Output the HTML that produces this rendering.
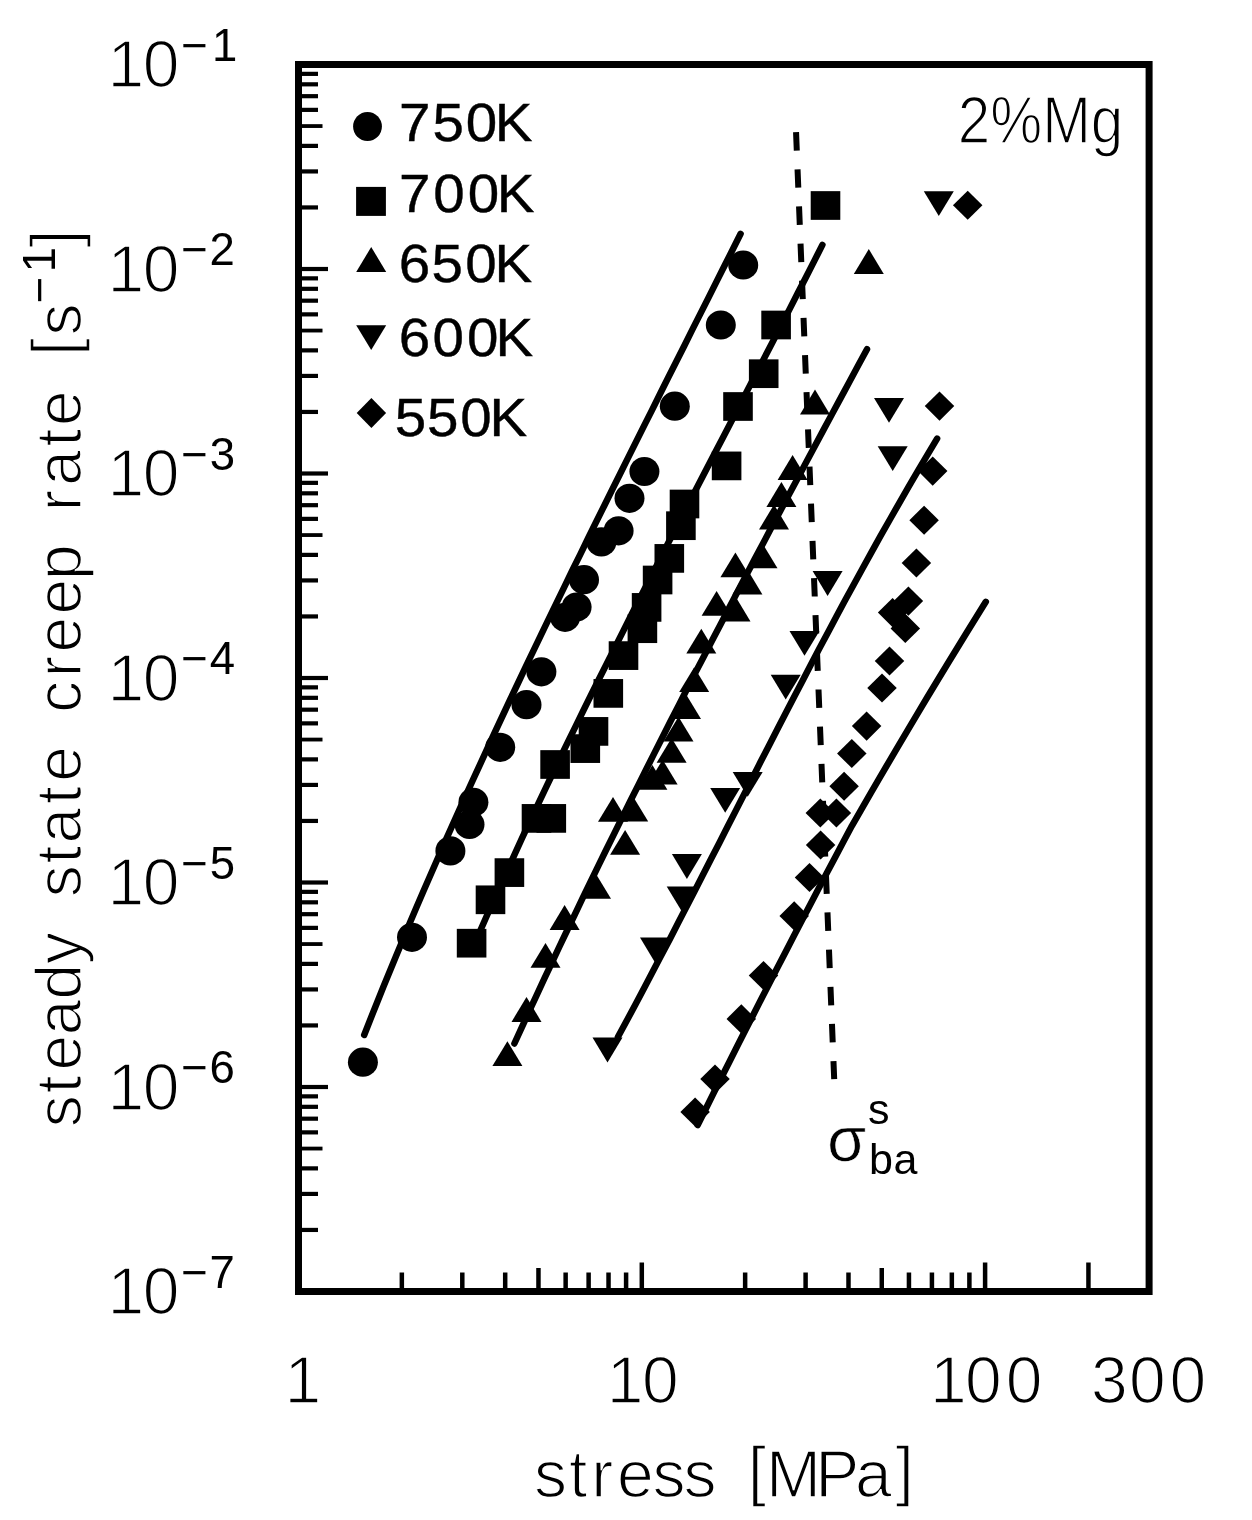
<!DOCTYPE html>
<html lang="en"><head><meta charset="utf-8"><title>steady state creep rate vs stress, 2%Mg</title>
<style>
html,body{margin:0;padding:0;background:#fff;}
svg{display:block;}
text{font-family:"Liberation Sans",sans-serif;fill:#000;}
.t60{font-size:66px;stroke:#fff;stroke-width:1.6px;}
.t42{font-size:45.5px;}
.ty{font-size:64px;stroke:#fff;stroke-width:1.5px;}
.lg{font-size:53.8px;stroke:#000;stroke-width:0.4px;}
.sb{font-size:43px;}
.sg{font-size:63px;stroke:#fff;stroke-width:0.6px;}
</style></head><body>
<svg width="1252" height="1520" viewBox="0 0 1252 1520">
<rect x="0" y="0" width="1252" height="1520" fill="#fff"/>
<path d="M298.5 64.5H1149.1V1291.5H298.5Z" fill="none" stroke="#000" stroke-width="7.0" stroke-linejoin="miter"/>
<path d="M301.0 1229.94h17" stroke="#000" stroke-width="4.2" fill="none"/>
<path d="M301.0 1193.93h17" stroke="#000" stroke-width="4.2" fill="none"/>
<path d="M301.0 1168.38h17" stroke="#000" stroke-width="4.2" fill="none"/>
<path d="M301.0 1148.56h21.5" stroke="#000" stroke-width="3.8" fill="none"/>
<path d="M301.0 1132.37h17" stroke="#000" stroke-width="4.2" fill="none"/>
<path d="M301.0 1118.68h17" stroke="#000" stroke-width="4.2" fill="none"/>
<path d="M301.0 1106.82h17" stroke="#000" stroke-width="4.2" fill="none"/>
<path d="M301.0 1096.36h17" stroke="#000" stroke-width="4.2" fill="none"/>
<path d="M301.0 1087.00h27" stroke="#000" stroke-width="4.2" fill="none"/>
<path d="M301.0 1025.44h17" stroke="#000" stroke-width="4.2" fill="none"/>
<path d="M301.0 989.43h17" stroke="#000" stroke-width="4.2" fill="none"/>
<path d="M301.0 963.88h17" stroke="#000" stroke-width="4.2" fill="none"/>
<path d="M301.0 944.06h21.5" stroke="#000" stroke-width="3.8" fill="none"/>
<path d="M301.0 927.87h17" stroke="#000" stroke-width="4.2" fill="none"/>
<path d="M301.0 914.18h17" stroke="#000" stroke-width="4.2" fill="none"/>
<path d="M301.0 902.32h17" stroke="#000" stroke-width="4.2" fill="none"/>
<path d="M301.0 891.86h17" stroke="#000" stroke-width="4.2" fill="none"/>
<path d="M301.0 882.50h27" stroke="#000" stroke-width="4.2" fill="none"/>
<path d="M301.0 820.94h17" stroke="#000" stroke-width="4.2" fill="none"/>
<path d="M301.0 784.93h17" stroke="#000" stroke-width="4.2" fill="none"/>
<path d="M301.0 759.38h17" stroke="#000" stroke-width="4.2" fill="none"/>
<path d="M301.0 739.56h21.5" stroke="#000" stroke-width="3.8" fill="none"/>
<path d="M301.0 723.37h17" stroke="#000" stroke-width="4.2" fill="none"/>
<path d="M301.0 709.68h17" stroke="#000" stroke-width="4.2" fill="none"/>
<path d="M301.0 697.82h17" stroke="#000" stroke-width="4.2" fill="none"/>
<path d="M301.0 687.36h17" stroke="#000" stroke-width="4.2" fill="none"/>
<path d="M301.0 678.00h27" stroke="#000" stroke-width="4.2" fill="none"/>
<path d="M301.0 616.44h17" stroke="#000" stroke-width="4.2" fill="none"/>
<path d="M301.0 580.43h17" stroke="#000" stroke-width="4.2" fill="none"/>
<path d="M301.0 554.88h17" stroke="#000" stroke-width="4.2" fill="none"/>
<path d="M301.0 535.06h21.5" stroke="#000" stroke-width="3.8" fill="none"/>
<path d="M301.0 518.87h17" stroke="#000" stroke-width="4.2" fill="none"/>
<path d="M301.0 505.18h17" stroke="#000" stroke-width="4.2" fill="none"/>
<path d="M301.0 493.32h17" stroke="#000" stroke-width="4.2" fill="none"/>
<path d="M301.0 482.86h17" stroke="#000" stroke-width="4.2" fill="none"/>
<path d="M301.0 473.50h27" stroke="#000" stroke-width="4.2" fill="none"/>
<path d="M301.0 411.94h17" stroke="#000" stroke-width="4.2" fill="none"/>
<path d="M301.0 375.93h17" stroke="#000" stroke-width="4.2" fill="none"/>
<path d="M301.0 350.38h17" stroke="#000" stroke-width="4.2" fill="none"/>
<path d="M301.0 330.56h21.5" stroke="#000" stroke-width="3.8" fill="none"/>
<path d="M301.0 314.37h17" stroke="#000" stroke-width="4.2" fill="none"/>
<path d="M301.0 300.68h17" stroke="#000" stroke-width="4.2" fill="none"/>
<path d="M301.0 288.82h17" stroke="#000" stroke-width="4.2" fill="none"/>
<path d="M301.0 278.36h17" stroke="#000" stroke-width="4.2" fill="none"/>
<path d="M301.0 269.00h27" stroke="#000" stroke-width="4.2" fill="none"/>
<path d="M301.0 207.44h17" stroke="#000" stroke-width="4.2" fill="none"/>
<path d="M301.0 171.43h17" stroke="#000" stroke-width="4.2" fill="none"/>
<path d="M301.0 145.88h17" stroke="#000" stroke-width="4.2" fill="none"/>
<path d="M301.0 126.06h21.5" stroke="#000" stroke-width="3.8" fill="none"/>
<path d="M301.0 109.87h17" stroke="#000" stroke-width="4.2" fill="none"/>
<path d="M301.0 96.18h17" stroke="#000" stroke-width="4.2" fill="none"/>
<path d="M301.0 84.32h17" stroke="#000" stroke-width="4.2" fill="none"/>
<path d="M301.0 73.86h17" stroke="#000" stroke-width="4.2" fill="none"/>
<path d="M401.84 1289.0v-16.5" stroke="#000" stroke-width="4.5" fill="none"/>
<path d="M462.30 1289.0v-16.5" stroke="#000" stroke-width="4.5" fill="none"/>
<path d="M505.19 1289.0v-16.5" stroke="#000" stroke-width="4.5" fill="none"/>
<path d="M538.46 1289.0v-21" stroke="#000" stroke-width="4.5" fill="none"/>
<path d="M565.64 1289.0v-16.5" stroke="#000" stroke-width="4.5" fill="none"/>
<path d="M588.62 1289.0v-16.5" stroke="#000" stroke-width="4.5" fill="none"/>
<path d="M608.53 1289.0v-16.5" stroke="#000" stroke-width="4.5" fill="none"/>
<path d="M626.09 1289.0v-16.5" stroke="#000" stroke-width="4.5" fill="none"/>
<path d="M641.80 1289.0v-26.5" stroke="#000" stroke-width="4.5" fill="none"/>
<path d="M745.14 1289.0v-16.5" stroke="#000" stroke-width="4.5" fill="none"/>
<path d="M805.60 1289.0v-16.5" stroke="#000" stroke-width="4.5" fill="none"/>
<path d="M848.49 1289.0v-16.5" stroke="#000" stroke-width="4.5" fill="none"/>
<path d="M881.76 1289.0v-21" stroke="#000" stroke-width="4.5" fill="none"/>
<path d="M908.94 1289.0v-16.5" stroke="#000" stroke-width="4.5" fill="none"/>
<path d="M931.92 1289.0v-16.5" stroke="#000" stroke-width="4.5" fill="none"/>
<path d="M951.83 1289.0v-16.5" stroke="#000" stroke-width="4.5" fill="none"/>
<path d="M969.39 1289.0v-16.5" stroke="#000" stroke-width="4.5" fill="none"/>
<path d="M985.10 1289.0v-26.5" stroke="#000" stroke-width="4.5" fill="none"/>
<path d="M1088.44 1289.0v-26.5" stroke="#000" stroke-width="4.5" fill="none"/>
<text class="t60" transform="translate(0 1314.1)" x="107.6 142.8" y="0">10</text>
<text class="t42" transform="translate(0 1287.7)" x="181.2 209.6" y="0">−7</text>
<text class="t60" transform="translate(0 1109.6)" x="107.6 142.8" y="0">10</text>
<text class="t42" transform="translate(0 1083.2)" x="181.2 209.5" y="0">−6</text>
<text class="t60" transform="translate(0 905.1)" x="107.6 142.8" y="0">10</text>
<text class="t42" transform="translate(0 878.7)" x="181.2 209.7" y="0">−5</text>
<text class="t60" transform="translate(0 700.6)" x="107.6 142.8" y="0">10</text>
<text class="t42" transform="translate(0 674.2)" x="181.2 209.8" y="0">−4</text>
<text class="t60" transform="translate(0 496.1)" x="107.6 142.8" y="0">10</text>
<text class="t42" transform="translate(0 469.7)" x="181.2 209.8" y="0">−3</text>
<text class="t60" transform="translate(0 291.6)" x="107.6 142.8" y="0">10</text>
<text class="t42" transform="translate(0 265.2)" x="181.2 209.6" y="0">−2</text>
<text class="t60" transform="translate(0 87.1)" x="107.6 142.8" y="0">10</text>
<text class="t42" transform="translate(0 60.7)" x="181.2 211.9" y="0">−1</text>
<text class="t60" transform="translate(0 1402.6)" x="284.4" y="0">1</text>
<text class="t60" transform="translate(0 1402.6)" x="606.8 642.0" y="0">10</text>
<text class="t60" transform="translate(0 1402.6)" x="930.1 965.1 1005.7" y="0">100</text>
<text class="t60" transform="translate(0 1402.6)" x="1090.9 1129.1 1169.4" y="0">300</text>
<text class="t60" transform="translate(0 1497.3)" x="534.1 569.1 591.3 617.0 652.4 683.5 716.5 747.7 766.0 815.3 855.0 895.4" y="0 0 0 0 0 0 0 -4 0 0 0 -4">stress [MPa]</text>
<text class="ty" transform="translate(80.6 0) rotate(-90)" x="-1127.2 -1093.3 -1070.5 -1035.2 -999.4 -964.0 -932.0 -897.3 -863.5 -843.6 -803.9 -781.7 -746.1 -712.8 -677.2 -652.5 -614.5 -580.1 -544.5 -511.2 -485.7 -446.5 -426.0 -390.4 -355.7 -335.4" y="0 0 0 0 0 0 0 0 0 0 0 0 0 0 0 0 0 0 0 0 0 0 0 0 -4 0">steady state creep rate [s</text>
<text class="t42" transform="translate(55.0 0) rotate(-90)" x="-303.3 -272.3" y="0">−1</text>
<text class="t60" transform="translate(76.6 0) rotate(-90)" x="-247.8" y="0">]</text>
<text class="t60" transform="translate(0 142.9) scale(0.885 1)" x="1082.2 1118.9 1177.6 1232.6" y="0">2%Mg</text>
<text class="sg" transform="translate(0 1160.5)" x="827.3" y="0">σ</text>
<text class="sb" transform="translate(0 1123.5)" x="868.0" y="0">s</text>
<text class="sb" transform="translate(0 1174.2)" x="869.1 893.5" y="0">ba</text>
<g fill="none" stroke="#000" stroke-width="6.5" stroke-linecap="round" stroke-linejoin="round">
<path d="M740.6 233.8L732.6 249.8L724.5 265.8L716.4 281.9L708.4 297.9L700.3 313.9L692.2 329.9L684.2 346.0L676.1 362.0L668.0 378.0L660.0 394.0L652.0 410.1L643.9 426.1L635.9 442.1L627.9 458.1L619.9 474.2L611.9 490.2L604.0 506.2L596.0 522.2L588.1 538.3L580.3 554.3L572.4 570.3L564.6 586.3L556.8 602.4L549.0 618.4L541.3 634.4L533.6 650.4L525.9 666.4L518.3 682.5L510.7 698.5L503.2 714.5L495.7 730.5L488.2 746.6L480.9 762.6L473.5 778.6L466.2 794.6L459.0 810.7L451.8 826.7L444.6 842.7L437.6 858.7L430.6 874.8L423.6 890.8L416.7 906.8L409.9 922.8L403.2 938.9L396.5 954.9L389.9 970.9L383.3 986.9L376.9 1003.0L370.5 1019.0L364.2 1035.0"/>
<path d="M822.4 244.9L814.3 260.9L806.1 277.0L797.8 293.0L789.6 309.1L781.3 325.1L773.0 341.2L764.7 357.2L756.3 373.3L748.0 389.3L739.7 405.4L731.3 421.4L723.0 437.5L714.6 453.5L706.3 469.6L698.0 485.6L689.6 501.7L681.3 517.7L673.0 533.8L664.7 549.8L656.5 565.9L648.2 581.9L640.0 598.0L631.8 614.0L623.7 630.1L615.6 646.1L607.5 662.2L599.4 678.2L591.4 694.3L583.5 710.3L575.6 726.4L567.7 742.4L559.9 758.5L552.2 774.5L544.5 790.6L536.9 806.6L529.3 822.7L521.8 838.7L514.4 854.8L507.0 870.8L499.7 886.9L492.5 902.9L485.4 919.0L478.4 935.0"/>
<path d="M867.0 349.2L858.3 365.3L849.6 381.5L840.9 397.6L832.2 413.8L823.5 429.9L814.9 446.1L806.2 462.2L797.6 478.4L789.0 494.5L780.4 510.7L771.8 526.8L763.3 543.0L754.7 559.1L746.2 575.3L737.7 591.4L729.3 607.5L720.9 623.7L712.5 639.8L704.1 656.0L695.7 672.1L687.4 688.3L679.2 704.4L670.9 720.6L662.7 736.7L654.5 752.9L646.4 769.0L638.3 785.2L630.2 801.3L622.2 817.4L614.2 833.6L606.2 849.7L598.3 865.9L590.5 882.0L582.6 898.2L574.9 914.3L567.1 930.5L559.4 946.6L551.8 962.8L544.2 978.9L536.7 995.1L529.2 1011.2L521.8 1027.4L514.4 1043.5"/>
<path d="M937.1 438.6L927.4 454.8L917.9 470.9L908.4 487.1L899.1 503.3L889.9 519.5L880.7 535.6L871.7 551.8L862.8 568.0L853.9 584.2L845.1 600.3L836.4 616.5L827.8 632.7L819.2 648.8L810.7 665.0L802.3 681.2L793.8 697.4L785.5 713.5L777.1 729.7L768.8 745.9L760.5 762.1L752.3 778.2L744.0 794.4L735.8 810.6L727.5 826.8L719.3 842.9L711.0 859.1L702.7 875.3L694.4 891.4L686.1 907.6L677.7 923.8L669.4 940.0L660.9 956.1L652.4 972.3L643.9 988.5L635.3 1004.7L626.7 1020.8L617.9 1037.0"/>
<path d="M985.8 601.8L975.9 617.8L966.0 633.8L956.2 649.8L946.4 665.8L936.7 681.8L927.0 697.8L917.4 713.8L907.9 729.8L898.4 745.8L889.0 761.8L879.6 777.8L870.3 793.8L861.1 809.8L851.9 825.8L843.5 841.5L835.2 857.3L826.8 873.0L818.5 888.8L810.3 904.5L802.0 920.3L793.8 936.0L785.7 951.8L777.5 967.5L769.4 983.3L761.3 999.0L753.3 1014.8L745.2 1030.5L737.2 1046.3L729.3 1062.0L721.3 1077.8L713.4 1093.5L705.6 1109.3L697.7 1125.0"/>
<path d="M796.05 132.1L834.2 1079.2" stroke-width="6" stroke-linecap="butt" stroke-dasharray="18.5 18.69"/>
</g>
<g fill="#000">
<ellipse cx="743.2" cy="265" rx="15.0" ry="14.6"/>
<ellipse cx="720.8" cy="325" rx="15.0" ry="14.6"/>
<ellipse cx="674.8" cy="406.2" rx="15.0" ry="14.6"/>
<ellipse cx="644.4" cy="471.5" rx="15.0" ry="14.6"/>
<ellipse cx="629.5" cy="498.3" rx="15.0" ry="14.6"/>
<ellipse cx="618.6" cy="530.8" rx="15.0" ry="14.6"/>
<ellipse cx="601.4" cy="541.9" rx="15.0" ry="14.6"/>
<ellipse cx="584" cy="579.7" rx="15.0" ry="14.6"/>
<ellipse cx="576.6" cy="607" rx="15.0" ry="14.6"/>
<ellipse cx="565.1" cy="617.3" rx="15.0" ry="14.6"/>
<ellipse cx="541.4" cy="671.8" rx="15.0" ry="14.6"/>
<ellipse cx="526.5" cy="704.7" rx="15.0" ry="14.6"/>
<ellipse cx="500.2" cy="747.3" rx="15.0" ry="14.6"/>
<ellipse cx="473.4" cy="802.3" rx="15.0" ry="14.6"/>
<ellipse cx="469.5" cy="824.5" rx="15.0" ry="14.6"/>
<ellipse cx="450.4" cy="850.9" rx="15.0" ry="14.6"/>
<ellipse cx="412" cy="937.3" rx="15.0" ry="14.6"/>
<ellipse cx="362.9" cy="1062.2" rx="15.0" ry="14.6"/>
<rect x="810.70" y="191.15" width="29.6" height="28.7"/>
<rect x="761.30" y="310.65" width="29.6" height="28.7"/>
<rect x="748.90" y="359.35" width="29.6" height="28.7"/>
<rect x="723.20" y="392.15" width="29.6" height="28.7"/>
<rect x="711.80" y="451.55" width="29.6" height="28.7"/>
<rect x="669.70" y="489.65" width="29.6" height="28.7"/>
<rect x="666.10" y="511.35" width="29.6" height="28.7"/>
<rect x="654.50" y="544.05" width="29.6" height="28.7"/>
<rect x="642.80" y="565.65" width="29.6" height="28.7"/>
<rect x="631.80" y="593.05" width="29.6" height="28.7"/>
<rect x="627.60" y="614.35" width="29.6" height="28.7"/>
<rect x="608.70" y="641.25" width="29.6" height="28.7"/>
<rect x="593.50" y="679.05" width="29.6" height="28.7"/>
<rect x="578.70" y="717.05" width="29.6" height="28.7"/>
<rect x="570.50" y="734.25" width="29.6" height="28.7"/>
<rect x="540.30" y="750.15" width="29.6" height="28.7"/>
<rect x="536.50" y="804.05" width="29.6" height="28.7"/>
<rect x="521.70" y="804.05" width="29.6" height="28.7"/>
<rect x="494.60" y="858.25" width="29.6" height="28.7"/>
<rect x="475.70" y="885.45" width="29.6" height="28.7"/>
<rect x="456.80" y="928.85" width="29.6" height="28.7"/>
<path d="M853.80 273.90L868.80 249.10L883.80 273.90Z"/>
<path d="M800.00 414.40L815.00 389.60L830.00 414.40Z"/>
<path d="M777.60 479.90L792.60 455.10L807.60 479.90Z"/>
<path d="M766.40 506.90L781.40 482.10L796.40 506.90Z"/>
<path d="M759.00 529.40L774.00 504.60L789.00 529.40Z"/>
<path d="M747.50 568.30L762.50 543.50L777.50 568.30Z"/>
<path d="M720.40 577.20L735.40 552.40L750.40 577.20Z"/>
<path d="M732.40 594.40L747.40 569.60L762.40 594.40Z"/>
<path d="M701.60 615.70L716.60 590.90L731.60 615.70Z"/>
<path d="M720.50 621.40L735.50 596.60L750.50 621.40Z"/>
<path d="M686.30 653.60L701.30 628.80L716.30 653.60Z"/>
<path d="M679.20 692.00L694.20 667.20L709.20 692.00Z"/>
<path d="M671.00 719.00L686.00 694.20L701.00 719.00Z"/>
<path d="M663.50 741.60L678.50 716.80L693.50 741.60Z"/>
<path d="M656.60 762.80L671.60 738.00L686.60 762.80Z"/>
<path d="M647.60 784.50L662.60 759.70L677.60 784.50Z"/>
<path d="M637.40 789.70L652.40 764.90L667.40 789.70Z"/>
<path d="M618.20 821.60L633.20 796.80L648.20 821.60Z"/>
<path d="M598.00 821.80L613.00 797.00L628.00 821.80Z"/>
<path d="M610.10 854.80L625.10 830.00L640.10 854.80Z"/>
<path d="M581.00 898.80L596.00 874.00L611.00 898.80Z"/>
<path d="M549.60 929.90L564.60 905.10L579.60 929.90Z"/>
<path d="M530.50 967.80L545.50 943.00L560.50 967.80Z"/>
<path d="M511.50 1021.90L526.50 997.10L541.50 1021.90Z"/>
<path d="M492.40 1066.10L507.40 1041.30L522.40 1066.10Z"/>
<path d="M923.80 191.20L938.80 216.00L953.80 191.20Z"/>
<path d="M874.00 397.90L889.00 422.70L904.00 397.90Z"/>
<path d="M877.70 446.30L892.70 471.10L907.70 446.30Z"/>
<path d="M812.60 571.10L827.60 595.90L842.60 571.10Z"/>
<path d="M789.50 630.90L804.50 655.70L819.50 630.90Z"/>
<path d="M770.70 674.80L785.70 699.60L800.70 674.80Z"/>
<path d="M732.70 772.00L747.70 796.80L762.70 772.00Z"/>
<path d="M710.20 787.90L725.20 812.70L740.20 787.90Z"/>
<path d="M671.90 854.10L686.90 878.90L701.90 854.10Z"/>
<path d="M666.70 886.40L681.70 911.20L696.70 886.40Z"/>
<path d="M640.00 937.60L655.00 962.40L670.00 937.60Z"/>
<path d="M592.50 1037.60L607.50 1062.40L622.50 1037.60Z"/>
<path d="M952.95 205.30L967.70 190.75L982.45 205.30L967.70 219.85Z"/>
<path d="M924.75 406.10L939.50 391.55L954.25 406.10L939.50 420.65Z"/>
<path d="M917.95 471.10L932.70 456.55L947.45 471.10L932.70 485.65Z"/>
<path d="M909.35 520.20L924.10 505.65L938.85 520.20L924.10 534.75Z"/>
<path d="M901.65 563.00L916.40 548.45L931.15 563.00L916.40 577.55Z"/>
<path d="M893.65 601.10L908.40 586.55L923.15 601.10L908.40 615.65Z"/>
<path d="M877.85 612.60L892.60 598.05L907.35 612.60L892.60 627.15Z"/>
<path d="M890.55 628.40L905.30 613.85L920.05 628.40L905.30 642.95Z"/>
<path d="M874.75 661.00L889.50 646.45L904.25 661.00L889.50 675.55Z"/>
<path d="M867.25 688.00L882.00 673.45L896.75 688.00L882.00 702.55Z"/>
<path d="M851.85 726.10L866.60 711.55L881.35 726.10L866.60 740.65Z"/>
<path d="M837.05 753.50L851.80 738.95L866.55 753.50L851.80 768.05Z"/>
<path d="M829.35 786.20L844.10 771.65L858.85 786.20L844.10 800.75Z"/>
<path d="M821.65 813.00L836.40 798.45L851.15 813.00L836.40 827.55Z"/>
<path d="M805.55 813.00L820.30 798.45L835.05 813.00L820.30 827.55Z"/>
<path d="M805.85 845.00L820.60 830.45L835.35 845.00L820.60 859.55Z"/>
<path d="M794.75 877.50L809.50 862.95L824.25 877.50L809.50 892.05Z"/>
<path d="M779.45 915.90L794.20 901.35L808.95 915.90L794.20 930.45Z"/>
<path d="M748.75 975.50L763.50 960.95L778.25 975.50L763.50 990.05Z"/>
<path d="M726.55 1018.90L741.30 1004.35L756.05 1018.90L741.30 1033.45Z"/>
<path d="M700.25 1079.00L715.00 1064.45L729.75 1079.00L715.00 1093.55Z"/>
<path d="M680.35 1112.00L695.10 1097.45L709.85 1112.00L695.10 1126.55Z"/>
<ellipse cx="367.5" cy="126.5" rx="14.4" ry="14.5"/>
<rect x="356.10" y="186.90" width="29.8" height="29"/>
<path d="M356.20 272.00L371.20 247.00L386.20 272.00Z"/>
<path d="M356.20 325.20L371.20 350.00L386.20 325.20Z"/>
<path d="M356.70 413.00L371.40 398.10L386.10 413.00L371.40 427.90Z"/>
</g>
<text class="lg" transform="translate(0 141.0) scale(1.05 1)" x="380.0 411.9 443.6 471.2" y="0">750K</text>
<text class="lg" transform="translate(0 211.8) scale(1.05 1)" x="380.0 412.6 445.5 473.0" y="0">700K</text>
<text class="lg" transform="translate(0 281.6) scale(1.05 1)" x="379.7 411.0 443.2 470.9" y="0">650K</text>
<text class="lg" transform="translate(0 356.3) scale(1.05 1)" x="379.7 411.8 444.8 472.0" y="0">600K</text>
<text class="lg" transform="translate(0 435.9) scale(1.05 1)" x="375.9 406.7 438.3 466.1" y="0">550K</text>
</svg></body></html>
